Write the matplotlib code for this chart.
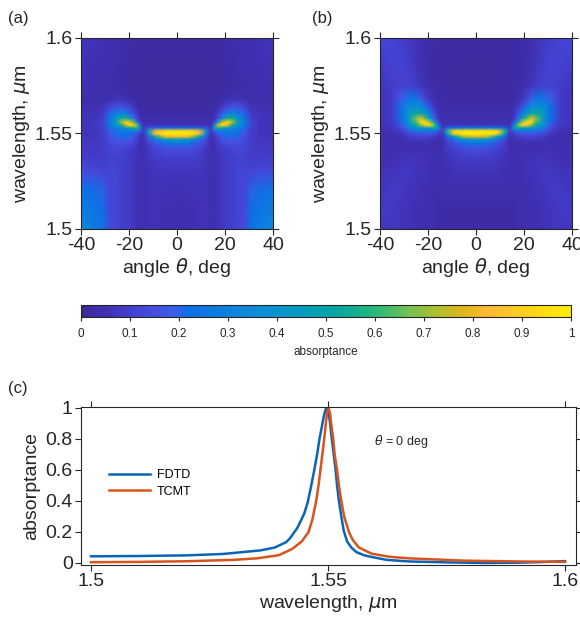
import numpy as np
import matplotlib
matplotlib.use("Agg")
import matplotlib.pyplot as plt
from matplotlib.colors import LinearSegmentedColormap, Normalize
from matplotlib.cm import ScalarMappable

plt.rcParams['font.family'] = ['Liberation Sans', 'DejaVu Sans']
plt.rcParams['mathtext.fontset'] = 'dejavusans'

# ---------------- data ----------------
# angle grid (deg, theta >= 0; maps are mirror-symmetric)
theta_half = [0, 5, 9, 12, 14, 15.5, 17, 19, 21, 23, 25, 28, 31, 35, 40]
# wavelength grid (um)
wl_grid = [1.500, 1.510, 1.520, 1.530, 1.537, 1.542, 1.545, 1.547, 1.5485, 1.5500,
           1.5515, 1.553, 1.5545, 1.556, 1.558, 1.5605, 1.564, 1.568, 1.575, 1.585, 1.600]

# (a) FDTD absorptance map, rows = wavelengths (bottom->top), cols = theta_half
absorb_fdtd = [
    [0.05, 0.05, 0.06, 0.06, 0.05, 0.05, 0.06, 0.08, 0.09, 0.10, 0.12, 0.14, 0.24, 0.28, 0.34],
    [0.05, 0.05, 0.06, 0.06, 0.05, 0.05, 0.06, 0.08, 0.09, 0.10, 0.12, 0.13, 0.22, 0.25, 0.28],
    [0.05, 0.06, 0.06, 0.06, 0.05, 0.05, 0.06, 0.08, 0.09, 0.10, 0.12, 0.13, 0.20, 0.22, 0.24],
    [0.07, 0.07, 0.07, 0.06, 0.05, 0.05, 0.06, 0.08, 0.09, 0.10, 0.12, 0.12, 0.12, 0.14, 0.15],
    [0.10, 0.10, 0.09, 0.07, 0.05, 0.05, 0.06, 0.08, 0.09, 0.10, 0.11, 0.11, 0.09, 0.09, 0.10],
    [0.16, 0.15, 0.12, 0.08, 0.05, 0.05, 0.07, 0.09, 0.10, 0.12, 0.13, 0.12, 0.09, 0.08, 0.08],
    [0.26, 0.23, 0.17, 0.11, 0.05, 0.05, 0.09, 0.13, 0.15, 0.16, 0.16, 0.13, 0.09, 0.08, 0.08],
    [0.48, 0.43, 0.28, 0.14, 0.05, 0.06, 0.11, 0.16, 0.18, 0.18, 0.18, 0.14, 0.09, 0.07, 0.07],
    [0.85, 0.80, 0.55, 0.20, 0.05, 0.07, 0.13, 0.19, 0.21, 0.21, 0.20, 0.16, 0.09, 0.07, 0.07],
    [1.00, 1.00, 0.85, 0.33, 0.06, 0.09, 0.18, 0.23, 0.24, 0.23, 0.22, 0.17, 0.09, 0.07, 0.06],
    [0.92, 0.92, 0.82, 0.45, 0.08, 0.18, 0.28, 0.30, 0.28, 0.27, 0.25, 0.19, 0.09, 0.07, 0.06],
    [0.22, 0.22, 0.20, 0.15, 0.08, 0.45, 0.60, 0.50, 0.40, 0.35, 0.30, 0.23, 0.10, 0.07, 0.06],
    [0.06, 0.06, 0.06, 0.06, 0.06, 0.28, 0.75, 0.97, 0.80, 0.55, 0.42, 0.26, 0.11, 0.07, 0.06],
    [0.05, 0.05, 0.05, 0.05, 0.05, 0.12, 0.40, 0.75, 0.93, 0.75, 0.50, 0.28, 0.11, 0.07, 0.06],
    [0.04, 0.04, 0.04, 0.04, 0.04, 0.05, 0.16, 0.36, 0.55, 0.55, 0.42, 0.26, 0.10, 0.06, 0.06],
    [0.03, 0.03, 0.03, 0.03, 0.03, 0.04, 0.10, 0.18, 0.28, 0.32, 0.29, 0.20, 0.08, 0.06, 0.06],
    [0.03, 0.03, 0.03, 0.03, 0.03, 0.03, 0.05, 0.09, 0.14, 0.17, 0.17, 0.12, 0.06, 0.05, 0.05],
    [0.02, 0.02, 0.02, 0.02, 0.02, 0.02, 0.03, 0.04, 0.05, 0.06, 0.06, 0.05, 0.04, 0.04, 0.05],
    [0.02, 0.02, 0.02, 0.02, 0.02, 0.02, 0.02, 0.02, 0.03, 0.03, 0.03, 0.04, 0.04, 0.05, 0.05],
    [0.02, 0.02, 0.02, 0.02, 0.02, 0.02, 0.02, 0.03, 0.03, 0.03, 0.04, 0.04, 0.05, 0.05, 0.06],
    [0.03, 0.03, 0.03, 0.03, 0.03, 0.03, 0.03, 0.03, 0.04, 0.04, 0.04, 0.05, 0.05, 0.06, 0.07],
]

# (b) TCMT absorptance map
absorb_tcmt = [
    [0.03, 0.03, 0.03, 0.03, 0.03, 0.03, 0.04, 0.04, 0.04, 0.05, 0.05, 0.06, 0.07, 0.08, 0.07],
    [0.03, 0.03, 0.03, 0.03, 0.03, 0.03, 0.04, 0.04, 0.04, 0.05, 0.05, 0.06, 0.07, 0.08, 0.09],
    [0.04, 0.04, 0.04, 0.04, 0.04, 0.04, 0.04, 0.04, 0.05, 0.05, 0.06, 0.07, 0.08, 0.09, 0.07],
    [0.06, 0.06, 0.06, 0.05, 0.05, 0.05, 0.05, 0.05, 0.06, 0.06, 0.07, 0.08, 0.08, 0.07, 0.06],
    [0.09, 0.09, 0.08, 0.07, 0.05, 0.05, 0.05, 0.05, 0.06, 0.06, 0.07, 0.07, 0.06, 0.05, 0.05],
    [0.15, 0.14, 0.11, 0.08, 0.05, 0.04, 0.04, 0.05, 0.05, 0.05, 0.05, 0.05, 0.05, 0.05, 0.05],
    [0.25, 0.22, 0.15, 0.10, 0.05, 0.04, 0.04, 0.05, 0.05, 0.05, 0.05, 0.05, 0.05, 0.05, 0.05],
    [0.44, 0.36, 0.25, 0.14, 0.05, 0.05, 0.06, 0.07, 0.08, 0.08, 0.08, 0.07, 0.05, 0.05, 0.04],
    [0.80, 0.72, 0.48, 0.23, 0.06, 0.06, 0.09, 0.11, 0.12, 0.12, 0.12, 0.10, 0.06, 0.05, 0.04],
    [1.00, 1.00, 0.92, 0.40, 0.07, 0.09, 0.13, 0.16, 0.17, 0.17, 0.16, 0.13, 0.08, 0.05, 0.04],
    [0.95, 0.95, 0.92, 0.60, 0.10, 0.16, 0.24, 0.26, 0.27, 0.27, 0.25, 0.19, 0.10, 0.06, 0.05],
    [0.28, 0.28, 0.26, 0.22, 0.08, 0.36, 0.55, 0.48, 0.42, 0.40, 0.38, 0.29, 0.14, 0.07, 0.05],
    [0.07, 0.07, 0.07, 0.06, 0.06, 0.23, 0.60, 0.95, 0.88, 0.68, 0.52, 0.36, 0.18, 0.08, 0.06],
    [0.05, 0.05, 0.05, 0.05, 0.05, 0.12, 0.34, 0.68, 0.95, 0.95, 0.62, 0.41, 0.21, 0.09, 0.06],
    [0.04, 0.04, 0.04, 0.04, 0.04, 0.07, 0.18, 0.39, 0.62, 0.80, 0.68, 0.44, 0.23, 0.09, 0.06],
    [0.04, 0.04, 0.04, 0.04, 0.04, 0.05, 0.12, 0.25, 0.41, 0.52, 0.52, 0.42, 0.24, 0.09, 0.06],
    [0.03, 0.03, 0.03, 0.03, 0.04, 0.04, 0.07, 0.15, 0.25, 0.34, 0.39, 0.37, 0.22, 0.09, 0.06],
    [0.03, 0.03, 0.03, 0.03, 0.03, 0.03, 0.04, 0.07, 0.12, 0.19, 0.25, 0.26, 0.19, 0.09, 0.06],
    [0.02, 0.02, 0.02, 0.03, 0.03, 0.03, 0.03, 0.04, 0.05, 0.07, 0.09, 0.11, 0.11, 0.09, 0.07],
    [0.02, 0.02, 0.02, 0.03, 0.03, 0.03, 0.03, 0.03, 0.04, 0.05, 0.07, 0.10, 0.12, 0.11, 0.09],
    [0.03, 0.03, 0.03, 0.03, 0.03, 0.03, 0.03, 0.04, 0.04, 0.05, 0.06, 0.08, 0.10, 0.12, 0.13],
]

# (c) spectra at theta = 0
fdtd_wl = [1.500, 1.510, 1.520, 1.5278, 1.5357, 1.5388, 1.5412, 1.5420, 1.5428, 1.5435,
           1.5440, 1.5450, 1.5457, 1.5464, 1.5471, 1.5477, 1.5482, 1.5487, 1.5490, 1.5493,
           1.5496, 1.5499, 1.5502, 1.5504, 1.5508, 1.5512, 1.5516, 1.5519, 1.5523, 1.5528,
           1.5533, 1.5540, 1.5549, 1.5560, 1.5576, 1.5590, 1.5624, 1.567, 1.575, 1.583,
           1.590, 1.595, 1.600]
fdtd_abs = [0.043, 0.045, 0.049, 0.058, 0.081, 0.100, 0.135, 0.160, 0.195, 0.225,
            0.255, 0.320, 0.390, 0.490, 0.600, 0.700, 0.800, 0.880, 0.930, 0.970,
            1.000, 0.985, 0.950, 0.910, 0.800, 0.700, 0.600, 0.500, 0.400, 0.300,
            0.210, 0.140, 0.100, 0.070, 0.050, 0.040, 0.020, 0.010, 0.004, 0.000,
            0.002, 0.006, 0.012]
tcmt_wl = [1.500, 1.510, 1.520, 1.530, 1.535, 1.5396, 1.5424, 1.5445, 1.5459, 1.5467,
           1.5475, 1.5480, 1.5484, 1.5488, 1.5492, 1.5495, 1.5498, 1.5501, 1.5504, 1.5507,
           1.5511, 1.5514, 1.5519, 1.5523, 1.5528, 1.5534, 1.5544, 1.5552, 1.5565, 1.5592,
           1.563, 1.567, 1.5788, 1.590, 1.600]
tcmt_abs = [0.005, 0.007, 0.011, 0.020, 0.030, 0.050, 0.090, 0.140, 0.200, 0.280,
            0.400, 0.500, 0.600, 0.700, 0.800, 0.890, 0.970, 1.000, 0.970, 0.890,
            0.800, 0.700, 0.600, 0.500, 0.400, 0.300, 0.200, 0.150, 0.100, 0.060,
            0.040, 0.030, 0.015, 0.010, 0.007]

cbar_ticks = [0, 0.1, 0.2, 0.3, 0.4, 0.5, 0.6, 0.7, 0.8, 0.9, 1]
cbar_ticklabels = ['0', '0.1', '0.2', '0.3', '0.4', '0.5', '0.6', '0.7', '0.8', '0.9', '1']

# ---------------- parula-like colormap (MATLAB default) ----------------
parula_anchors = [
    (0.000, (0.2300, 0.1550, 0.5900)),
    (0.050, (0.2500, 0.1900, 0.7000)),
    (0.100, (0.2650, 0.2450, 0.8100)),
    (0.160, (0.2700, 0.3150, 0.8900)),
    (0.190, (0.2300, 0.3700, 0.9200)),
    (0.215, (0.0600, 0.4300, 0.9100)),
    (0.260, (0.0500, 0.4700, 0.8900)),
    (0.330, (0.0600, 0.5300, 0.8600)),
    (0.400, (0.0400, 0.5800, 0.8100)),
    (0.470, (0.0200, 0.6200, 0.7200)),
    (0.530, (0.0300, 0.6600, 0.6200)),
    (0.600, (0.1500, 0.7200, 0.4700)),
    (0.670, (0.4500, 0.7600, 0.3300)),
    (0.730, (0.7000, 0.7500, 0.1800)),
    (0.780, (0.8700, 0.7200, 0.1000)),
    (0.830, (0.9900, 0.7200, 0.2000)),
    (0.880, (0.9950, 0.7800, 0.1600)),
    (0.940, (0.9900, 0.8600, 0.0600)),
    (1.000, (0.9900, 0.9300, 0.0300)),
]
parula = LinearSegmentedColormap.from_list('parula', parula_anchors, N=256)
norm = Normalize(vmin=0, vmax=1)

# ---------------- figure ----------------
W, H = 580, 621
fig = plt.figure(figsize=(W / 100, H / 100), dpi=100)


def px_axes(left, top, right, bottom):
    return fig.add_axes([left / W, 1 - bottom / H, (right - left) / W, (bottom - top) / H])


spine_col = '#262626'
TICK_FS = 14


def style_axes(ax):
    for s in ax.spines.values():
        s.set_color(spine_col)
        s.set_linewidth(0.8)
    ax.tick_params(direction='out', top=True, right=True, length=4, width=0.8,
                   color=spine_col, labelsize=TICK_FS, labelcolor='#262626', pad=2)


theta_full = np.array([-t for t in theta_half[:0:-1]] + theta_half, dtype=float)
wl_arr = np.array(wl_grid)


def mirror(tab):
    return np.array([row[:0:-1] + row for row in tab], dtype=float)


def heatmap(ax, tab):
    ax.pcolormesh(theta_full, wl_arr, mirror(tab), shading='gouraud', cmap=parula,
                  norm=norm, rasterized=True)
    ax.set_xlim(-40, 40)
    ax.set_ylim(1.5, 1.6)
    ax.set_xticks([-40, -20, 0, 20, 40])
    ax.set_xticklabels(['-40', '-20', '0', '20', '40'])
    ax.set_yticks([1.5, 1.55, 1.6])
    ax.set_yticklabels(['1.5', '1.55', '1.6'])
    style_axes(ax)
    ax.set_xlabel(r'angle $\theta$, deg', fontsize=14, color='#262626', labelpad=1)
    ax.set_ylabel(r'wavelength, $\mu$m', fontsize=14, color='#262626', labelpad=2)


ax_a = px_axes(81, 38, 273, 229)
heatmap(ax_a, absorb_fdtd)
ax_b = px_axes(380, 38, 572, 229)
heatmap(ax_b, absorb_tcmt)

fig.text(18 / W, 1 - 18 / H, '(a)', fontsize=12, ha='center', va='center', color='#262626')
fig.text(322 / W, 1 - 18 / H, '(b)', fontsize=12, ha='center', va='center', color='#262626')
fig.text(18 / W, 1 - 389 / H, '(c)', fontsize=12, ha='center', va='center', color='#262626')

# colorbar
cax = px_axes(81, 305, 571, 317)
sm = ScalarMappable(norm=norm, cmap=parula)
cb = fig.colorbar(sm, cax=cax, orientation='horizontal')
cb.set_ticks(cbar_ticks)
cb.set_ticklabels(cbar_ticklabels)
cb.outline.set_edgecolor(spine_col)
cb.outline.set_linewidth(0.8)
cax.tick_params(direction='out', length=3, width=0.8, color=spine_col, labelsize=8.5,
                labelcolor='#262626', pad=5)
cb.set_label('absorptance', fontsize=8.5, color='#262626', labelpad=4)

# (c) spectra
ax_c = px_axes(81, 407, 576, 565)
ax_c.plot(fdtd_wl, fdtd_abs, color='#0a64b8', lw=1.8, label='FDTD')
ax_c.plot(tcmt_wl, tcmt_abs, color='#d9531e', lw=1.8, label='TCMT')
ax_c.set_xlim(1.4979, 1.6023)
ax_c.set_ylim(-0.013, 1.006)
ax_c.set_xticks([1.5, 1.55, 1.6])
ax_c.set_xticklabels(['1.5', '1.55', '1.6'])
ax_c.set_yticks([0, 0.2, 0.4, 0.6, 0.8, 1.0])
ax_c.set_yticklabels(['0', '0.2', '0.4', '0.6', '0.8', '1'])
style_axes(ax_c)
ax_c.set_xlabel(r'wavelength, $\mu$m', fontsize=14, color='#262626', labelpad=2)
ax_c.set_ylabel('absorptance', fontsize=14, color='#262626', labelpad=4)
ax_c.legend(loc='upper left', bbox_to_anchor=(0.057, 0.606), frameon=False, fontsize=9,
            handlelength=3.3, handletextpad=0.5, labelspacing=0.35, borderpad=0,
            borderaxespad=0)
ax_c.text(1.5596, 0.786, r'$\theta$ = 0 deg', fontsize=9, ha='left', va='center',
          color='#262626')

fig.savefig('out.png', dpi=100)
